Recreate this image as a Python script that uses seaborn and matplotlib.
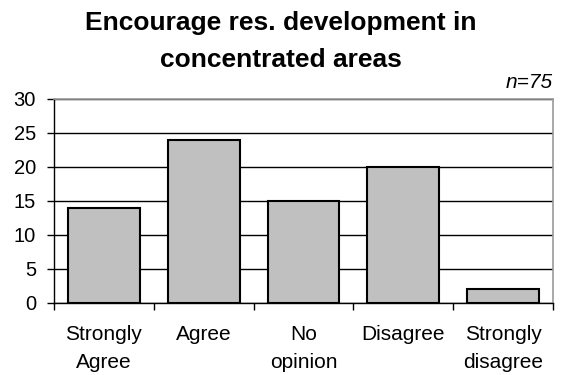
import matplotlib
matplotlib.use("Agg")
import matplotlib.pyplot as plt
import seaborn as sns
import pandas as pd

categories = ["Strongly\nAgree", "Agree", "No\nopinion", "Disagree", "Strongly\ndisagree"]
counts = [14, 24, 15, 20, 2]
title_lines = ["Encourage res. development in", "concentrated areas"]
note = "n=75"
yticks = [0, 5, 10, 15, 20, 25, 30]

df = pd.DataFrame({"cat": categories, "count": counts})

sns.set_style("white")
plt.rcParams["font.family"] = ["Liberation Sans", "DejaVu Sans"]
plt.rcParams["text.color"] = "black"
plt.rcParams["xtick.color"] = "black"
plt.rcParams["ytick.color"] = "black"
plt.rcParams["axes.labelcolor"] = "black"

fig = plt.figure(figsize=(5.63, 3.75), dpi=100)
ax = fig.add_axes([54/563, 1-303/375, (553-54)/563, (303-99)/375])

sns.barplot(data=df, x="cat", y="count", color="#c0c0c0", edgecolor="black",
            linewidth=1.5, width=0.72, saturation=1, ax=ax)

ax.set_ylim(0, 30)
ax.set_xlim(-0.5, 4.5)
ax.set_yticks(yticks)
ax.yaxis.grid(True, color="black", linewidth=1)
ax.set_axisbelow(True)
ax.set_xlabel("")
ax.set_ylabel("")
for s in ["top", "right"]:
    ax.spines[s].set_color("#999999")
    ax.spines[s].set_linewidth(1.2)
for s in ["left", "bottom"]:
    ax.spines[s].set_color("black")
    ax.spines[s].set_linewidth(1)
ax.set_xticks([i - 0.5 for i in range(6)], minor=True)
ax.tick_params(axis="x", which="major", length=0, labelsize=15, pad=16,
               labelcolor="black")
ax.tick_params(axis="x", which="minor", length=5, width=1, color="black", direction="out")
ax.tick_params(axis="y", length=5, width=1, color="black", direction="out",
               labelsize=14.5, left=True, pad=8, labelcolor="black")
ax.xaxis.set_ticks_position("bottom")
for lab in ax.get_xticklabels():
    lab.set_linespacing(1.6)

for txt, yp in zip(title_lines, [23, 60]):
    fig.text(281/563, 1-yp/375, txt, ha="center", va="center", fontsize=19,
             fontweight="bold", color="black")
fig.text(553/563, 1-83/375, note, ha="right", va="center", fontsize=15,
         style="italic", color="black")

fig.savefig("out.png", dpi=100)
